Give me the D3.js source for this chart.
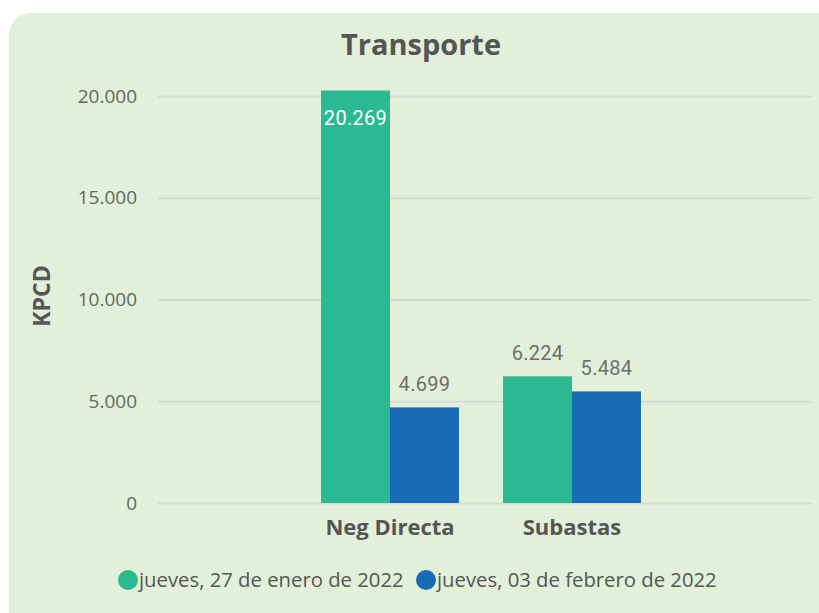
<!DOCTYPE html>
<html>
<head>
<meta charset="utf-8">
<script src="https://cdnjs.cloudflare.com/ajax/libs/d3/7.8.5/d3.min.js"></script>
<style>
  html, body { margin: 0; padding: 0; background: #fff; }
  svg { display: block; }
</style>
</head>
<body>
<div id="chart"></div>
<script>
// Data
const categories = ["Neg Directa", "Subastas"];
const seriesNames = ["jueves, 27 de enero de 2022", "jueves, 03 de febrero de 2022"];
const seriesValues = [
    [20269, 6224],
    [4699, 5484]
];
const yTicks = [0, 5000, 10000, 15000, 20000];

const width = 819, height = 613;
const colors = ["#2bb992", "#1a6bb5"];
const bgColor = "#e2efd9";

const svg = d3.select("#chart").append("svg")
    .attr("width", width).attr("height", height);

// Panel
svg.append("rect")
    .attr("x", 9).attr("y", 13)
    .attr("width", 840).attr("height", 640)
    .attr("rx", 22)
    .attr("fill", bgColor);

// Scales
const y = d3.scaleLinear().domain([0, 20000]).range([503, 96]);
const x0 = d3.scaleBand().domain(categories).range([299, 663]).paddingInner(0.242).paddingOuter(0.121);
const x1 = d3.scaleBand().domain(d3.range(seriesNames.length)).range([0, x0.bandwidth()]);

const fmt = d3.formatLocale({ decimal: ",", thousands: ".", grouping: [3], currency: ["", ""] }).format(",d");

// Title
svg.append("text")
    .attr("x", 421).attr("y", 55)
    .attr("text-anchor", "middle")
    .attr("font-family", "Open Sans, sans-serif")
    .attr("font-weight", 700)
    .attr("font-size", "29px")
    .attr("fill", "#555")
    .text("Transporte");

// Gridlines
const gridG = svg.append("g")
    .attr("transform", "translate(158,0)")
    .call(d3.axisLeft(y).tickValues(yTicks).tickSize(-654).tickFormat(d => fmt(d)).tickPadding(21));
gridG.select(".domain").remove();
gridG.selectAll(".tick line").attr("stroke", "#d6d9d3").attr("stroke-width", 2);
gridG.selectAll(".tick text")
    .attr("font-family", "Open Sans, sans-serif")
    .attr("font-size", "19px")
    .attr("fill", "#666");

// Y axis title
svg.append("text")
    .attr("transform", "translate(50,296) rotate(-90)")
    .attr("text-anchor", "middle")
    .attr("font-family", "Open Sans, sans-serif")
    .attr("font-weight", 700)
    .attr("font-size", "23px")
    .attr("fill", "#555")
    .text("KPCD");

// Bars
const groups = svg.append("g").selectAll("g")
    .data(categories).enter().append("g")
    .attr("transform", d => `translate(${x0(d)},0)`);

groups.each(function (cat, ci) {
    const g = d3.select(this);
    seriesNames.forEach((s, si) => {
        const v = seriesValues[si][ci];
        g.append("rect")
            .attr("x", x1(si))
            .attr("y", y(v))
            .attr("width", x1.bandwidth())
            .attr("height", y(0) - y(v))
            .attr("fill", colors[si]);
        const inside = (y(0) - y(v)) > 200;
        g.append("text")
            .attr("x", x1(si) + x1.bandwidth() / 2)
            .attr("y", inside ? y(v) + 34 : y(v) - 16)
            .attr("text-anchor", "middle")
            .attr("font-family", "Roboto, sans-serif")
            .attr("font-size", "20px")
            .attr("letter-spacing", "0.3px")
            .attr("fill", inside ? "#fff" : "#6e6e6e")
            .text(fmt(v));
    });
});

// Category labels
const xAxisG = svg.append("g")
    .attr("transform", "translate(0,503)")
    .call(d3.axisBottom(x0).tickSize(0).tickPadding(16));
xAxisG.select(".domain").remove();
xAxisG.selectAll(".tick text")
    .attr("font-family", "Open Sans, sans-serif")
    .attr("font-weight", 700)
    .attr("font-size", "22px")
    .attr("fill", "#555");

// Legend
const legendX = [128, 426];
const legend = svg.append("g").selectAll("g")
    .data(seriesNames).enter().append("g")
    .attr("transform", (d, i) => `translate(${legendX[i]},580)`);
legend.append("circle").attr("r", 10).attr("fill", (d, i) => colors[i]);
legend.append("text")
    .attr("x", 11).attr("y", 7)
    .attr("font-family", "Open Sans, sans-serif")
    .attr("font-size", "20.3px")
    .attr("fill", "#555")
    .text(d => d);
</script>
</body>
</html>
